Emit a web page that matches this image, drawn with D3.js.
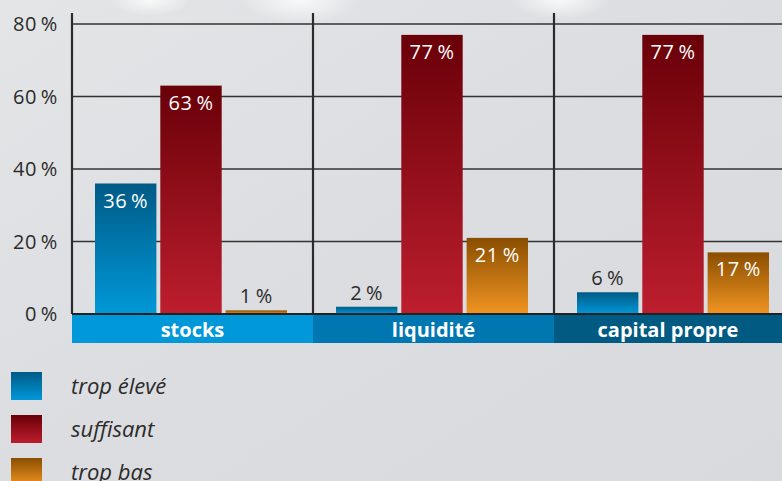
<!DOCTYPE html>
<html>
<head>
<meta charset="utf-8">
<script src="https://cdn.jsdelivr.net/npm/d3@7"></script>
<style>
  body { margin: 0; background: #dcdde0; }
  svg { display: block; font-family: "Open Sans", "Noto Sans", sans-serif; }
</style>
</head>
<body>
<div id="chart"></div>
<script>
// data
var categories = ["stocks", "liquidité", "capital propre"];
var seriesNames = ["trop élevé", "suffisant", "trop bas"];
var tropEleve = [36, 2, 6];
var suffisant = [63, 77, 77];
var tropBas = [1, 21, 17];
var yTicks = [0, 20, 40, 60, 80];

var series = [tropEleve, suffisant, tropBas];
var barTop = ["#005a86", "#690008", "#8a4e00"];
var barBottom = ["#0098d8", "#bd1e2e", "#f09422"];
var bandColors = ["#0098d8", "#0077b1", "#005a82"];

var width = 782, height = 481;
var left = 72, baseY = 314;

var svg = d3.select("#chart").append("svg")
    .attr("width", width)
    .attr("height", height);

var defs = svg.append("defs");

// background with soft light streaks
var bg = defs.append("linearGradient").attr("id", "bg")
    .attr("x1", 0).attr("y1", 0).attr("x2", 1).attr("y2", 1);
bg.append("stop").attr("offset", "0%").attr("stop-color", "#e4e5e7");
bg.append("stop").attr("offset", "50%").attr("stop-color", "#dcdde0");
bg.append("stop").attr("offset", "100%").attr("stop-color", "#d9dadd");
svg.append("rect").attr("width", width).attr("height", height).attr("fill", "url(#bg)");

var glow = defs.append("radialGradient").attr("id", "glow");
glow.append("stop").attr("offset", "0%").attr("stop-color", "#ffffff").attr("stop-opacity", 0.8);
glow.append("stop").attr("offset", "100%").attr("stop-color", "#ffffff").attr("stop-opacity", 0);
[[300, 0, 60], [560, 0, 50], [150, 0, 40]].forEach(function(g) {
    svg.append("ellipse").attr("cx", g[0]).attr("cy", g[1])
        .attr("rx", g[2]).attr("ry", g[2] / 2.5)
        .attr("fill", "url(#glow)");
});

seriesNames.forEach(function(s, i) {
    var g = defs.append("linearGradient").attr("id", "grad" + i)
        .attr("x1", 0).attr("y1", 0).attr("x2", 0).attr("y2", 1);
    g.append("stop").attr("offset", "0%").attr("stop-color", barTop[i]);
    g.append("stop").attr("offset", "100%").attr("stop-color", barBottom[i]);
});

// scales
var x0 = d3.scaleBand()
    .domain(categories)
    .range([left, left + 241 * 3])
    .paddingInner(0)
    .paddingOuter(0);

var x1 = d3.scaleBand()
    .domain(d3.range(seriesNames.length))
    .range([23, 23 + 192])
    .paddingInner(0.06)
    .paddingOuter(0);

var y = d3.scaleLinear()
    .domain([0, 80])
    .range([baseY, 24]);

// horizontal gridlines
svg.selectAll(".grid")
    .data(yTicks.filter(function(d) { return d > 0; }))
    .enter().append("line")
    .attr("x1", left).attr("x2", width)
    .attr("y1", function(d) { return y(d); })
    .attr("y2", function(d) { return y(d); })
    .attr("stroke", "#333")
    .attr("stroke-width", 1.3);

// y tick labels
svg.selectAll(".ytick")
    .data(yTicks)
    .enter().append("text")
    .attr("x", 58)
    .attr("y", function(d) { return y(d); })
    .attr("dy", "0.35em")
    .attr("text-anchor", "end")
    .attr("fill", "#2b2b2b")
    .style("font-size", "20px")
    .style("letter-spacing", "0.6px")
    .text(function(d) { return d + "\u2009%"; });

// vertical separators
svg.selectAll(".sep")
    .data(categories)
    .enter().append("line")
    .attr("x1", function(d) { return x0(d); })
    .attr("x2", function(d) { return x0(d); })
    .attr("y1", 13).attr("y2", baseY)
    .attr("stroke", "#2b2b2b")
    .attr("stroke-width", 2.2);

// bars
var groups = svg.selectAll(".group")
    .data(categories)
    .enter().append("g")
    .attr("transform", function(d) { return "translate(" + x0(d) + ",0)"; });

groups.each(function(cat, ci) {
    var g = d3.select(this);
    var vals = series.map(function(s, si) { return {si: si, v: s[ci]}; });

    g.selectAll("rect")
        .data(vals)
        .enter().append("rect")
        .attr("x", function(d) { return x1(d.si); })
        .attr("width", x1.bandwidth())
        .attr("y", function(d) { return y(d.v); })
        .attr("height", function(d) { return baseY - y(d.v); })
        .attr("fill", function(d) { return "url(#grad" + d.si + ")"; });

    g.selectAll(".val")
        .data(vals)
        .enter().append("text")
        .attr("x", function(d) { return x1(d.si) + x1.bandwidth() / 2; })
        .attr("y", function(d) { return d.v > 10 ? y(d.v) + 24 : y(d.v) - 7; })
        .attr("text-anchor", "middle")
        .attr("fill", function(d) { return d.v > 10 ? "#ffffff" : "#2b2b2b"; })
        .style("font-size", "20px")
        .style("letter-spacing", "0.6px")
        .text(function(d) { return d.v + "\u2009%"; });
});

// baseline
svg.append("line")
    .attr("x1", left).attr("x2", width)
    .attr("y1", baseY).attr("y2", baseY)
    .attr("stroke", "#222")
    .attr("stroke-width", 2);

// category bands
svg.selectAll(".band")
    .data(categories)
    .enter().append("rect")
    .attr("x", function(d) { return x0(d); })
    .attr("width", x0.bandwidth())
    .attr("y", baseY + 1)
    .attr("height", 28)
    .attr("fill", function(d, i) { return bandColors[i]; });

svg.selectAll(".cat")
    .data(categories)
    .enter().append("text")
    .attr("x", function(d, i) {
        var end = Math.min(x0(d) + x0.bandwidth(), width);
        return (x0(d) + end) / 2;
    })
    .attr("y", baseY + 16)
    .attr("dy", "0.35em")
    .attr("text-anchor", "middle")
    .attr("fill", "#ffffff")
    .style("font-size", "20px")
    .style("font-weight", "bold")
    .text(function(d) { return d; });

// legend
var legend = svg.selectAll(".legend")
    .data(seriesNames)
    .enter().append("g")
    .attr("transform", function(d, i) { return "translate(11," + (372 + i * 43) + ")"; });

legend.append("rect")
    .attr("width", 31)
    .attr("height", 28)
    .attr("fill", function(d, i) { return "url(#grad" + i + ")"; });

legend.append("text")
    .attr("x", 60)
    .attr("y", 14)
    .attr("dy", "0.35em")
    .attr("fill", "#2b2b2b")
    .style("font-size", "22px")
    .style("font-style", "italic")
    .text(function(d) { return d; });
</script>
</body>
</html>
